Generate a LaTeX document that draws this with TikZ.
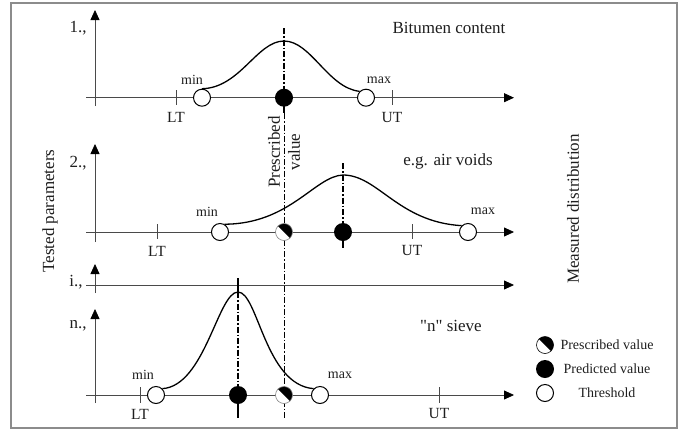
\documentclass[tikz,border=0pt]{standalone}
\usepackage{fontspec}
\setmainfont{Liberation Serif}[Ligatures=TeXOff]
\usetikzlibrary{arrows.meta}
\definecolor{AxisColor}{HTML}{4A4A4A}
\definecolor{FrameColor}{HTML}{8C8C8C}
\definecolor{TextColor}{HTML}{1E1E1E}

\tikzset{
  axis/.style={draw=AxisColor, line width=0.8pt},
  axisarrow/.style={axis, -{Triangle[length=10pt,width=9pt,color=black]}},
  distcurve/.style={line width=1.3pt},
  threshold/.style={circle, draw, line width=1pt, fill=white, minimum size=17pt, inner sep=0pt},
  predicted/.style={circle, fill=black, minimum size=18pt, inner sep=0pt},
  prescribed/.style={circle, draw=gray, line width=0.6pt, fill=white, minimum size=17pt, inner sep=0pt,
    path picture={\fill[black] (path picture bounding box.center) -- ++(-45:12pt)
      arc[start angle=-45, end angle=135, radius=12pt] -- cycle;}},
  biglabel/.style={font=\fontsize{17}{20}\selectfont, text=TextColor, inner sep=0pt},
  ticklabel/.style={font=\fontsize{15.5}{18}\selectfont, text=TextColor, inner sep=0pt},
  smalllabel/.style={font=\fontsize{14}{16}\selectfont, text=TextColor, inner sep=0pt},
  prescline/.style={line width=0.6pt, dash pattern=on 6pt off 2pt on 1.5pt off 2pt},
  predline/.style={line width=1.2pt, dash pattern=on 6pt off 2pt on 1.5pt off 2pt},
}

\begin{document}
\begin{tikzpicture}[x=1pt, y=-1pt]
  \useasboundingbox (0,0) rectangle (686,432);
  \draw[FrameColor, line width=1.2pt] (11,3) rectangle (677,428);

  % side titles
  \node[biglabel, rotate=90] (tested) at (50,211) {Tested parameters};
  \node[biglabel, rotate=90] (measured) at (573,209) {Measured distribution};

  % panel 1
  \draw[axisarrow] (95,106) -- (95,10);
  \draw[axisarrow] (86,97.7) -- (514,97.7);
  \node[biglabel] (lab1) at (78,28) {1.,};
  \node[biglabel] (name1) at (449,28) {Bitumen content};
  \draw[axis] (176,90) -- (176,105);
  \node[ticklabel] (lt1) at (176,117) {LT};
  \draw[axis] (392,90) -- (392,105);
  \node[ticklabel] (ut1) at (392,117) {UT};
  \coordinate (peak1) at (284,41);
  \draw[predline] (284,28) -- (284,97.7);
  \draw[line width=1.2pt] (284,100) -- (284,113);
  \node[threshold] (min1) at (202,97.7) {};
  \node[threshold] (max1) at (366,97.7) {};
  \node[predicted] (pred1) at (284,97.7) {};
  \node[smalllabel] (minlab1) at (192,80) {min};
  \node[smalllabel] (maxlab1) at (379,80) {max};
  \draw[distcurve] (min1.north) .. controls (240,88) and (257,41) .. (peak1)
    .. controls (311,41) and (328,88) .. (max1.north west);

  % prescribed value line
  \node[biglabel, rotate=90, align=center] (presc) at (284,152)
    {Prescribed\\value};
  \draw[prescline] (284,113) -- (284,418);

  % panel 2
  \draw[axisarrow] (95,242) -- (95,144);
  \draw[axisarrow] (86,232) -- (514,232);
  \node[biglabel] (lab2) at (78,163) {2.,};
  \node[biglabel] (name2) at (448,161) {e.g. air voids};
  \draw[axis] (157,224) -- (157,239);
  \node[ticklabel] (lt2) at (157,251) {LT};
  \draw[axis] (412,224) -- (412,239);
  \node[ticklabel] (ut2) at (412,250) {UT};
  \coordinate (peak2) at (343,175);
  \draw[predline] (343,163) -- (343,232);
  \draw[line width=1.2pt] (343,236) -- (343,248);
  \node[threshold] (min2) at (220,232) {};
  \node[threshold] (max2) at (468,232) {};
  \node[prescribed] (presc2) at (284,232) {};
  \node[predicted] (pred2) at (343,232) {};
  \node[smalllabel] (minlab2) at (207,212) {min};
  \node[smalllabel] (maxlab2) at (483,211) {max};
  \draw[distcurve] (min2.60) .. controls (290,224) and (315,176) .. (peak2)
    .. controls (378,175) and (398,222) .. (max2.north west);

  % panel i
  \draw[axisarrow] (95,293) -- (95,264);
  \draw[axisarrow] (86,285) -- (514,285);
  \node[biglabel] (labi) at (76,282) {i.,};

  % panel n
  \draw[axisarrow] (95,403) -- (95,309);
  \draw[axisarrow] (86,395) -- (514,395);
  \node[biglabel] (labn) at (78,326) {n.,};
  \node[biglabel] (namen) at (451,326) {"n" sieve};
  \draw[axis] (140,387) -- (140,403);
  \node[ticklabel] (ltn) at (140,414) {LT};
  \draw[axis] (439,387) -- (439,403);
  \node[ticklabel] (utn) at (439,413) {UT};
  \coordinate (peakn) at (238,292);
  \draw[line width=1.2pt] (238,278) -- (238,292);
  \draw[predline] (238,292) -- (238,395);
  \draw[line width=1.2pt] (238,399) -- (238,418);
  \node[threshold] (minn) at (156,395) {};
  \node[threshold] (maxn) at (320,395) {};
  \node[prescribed] (prescn) at (284,395) {};
  \node[predicted] (predn) at (238,395) {};
  \node[smalllabel] (minlabn) at (143,375) {min};
  \node[smalllabel] (maxlabn) at (340,375) {max};
  \draw[distcurve] (minn.north east) .. controls (205,386) and (218,292) .. (peakn)
    .. controls (258,292) and (265,385) .. (maxn.north west);

  % legend
  \node[prescribed, draw=black] (keypresc) at (545,345) {};
  \node[smalllabel] (keyprescl) at (607,345) {Prescribed value};
  \node[predicted] (keypred) at (545,369) {};
  \node[smalllabel] (keypredl) at (607,369) {Predicted value};
  \node[threshold] (keythr) at (545,393) {};
  \node[smalllabel] (keythrl) at (607,393) {Threshold};
\end{tikzpicture}
\end{document}
